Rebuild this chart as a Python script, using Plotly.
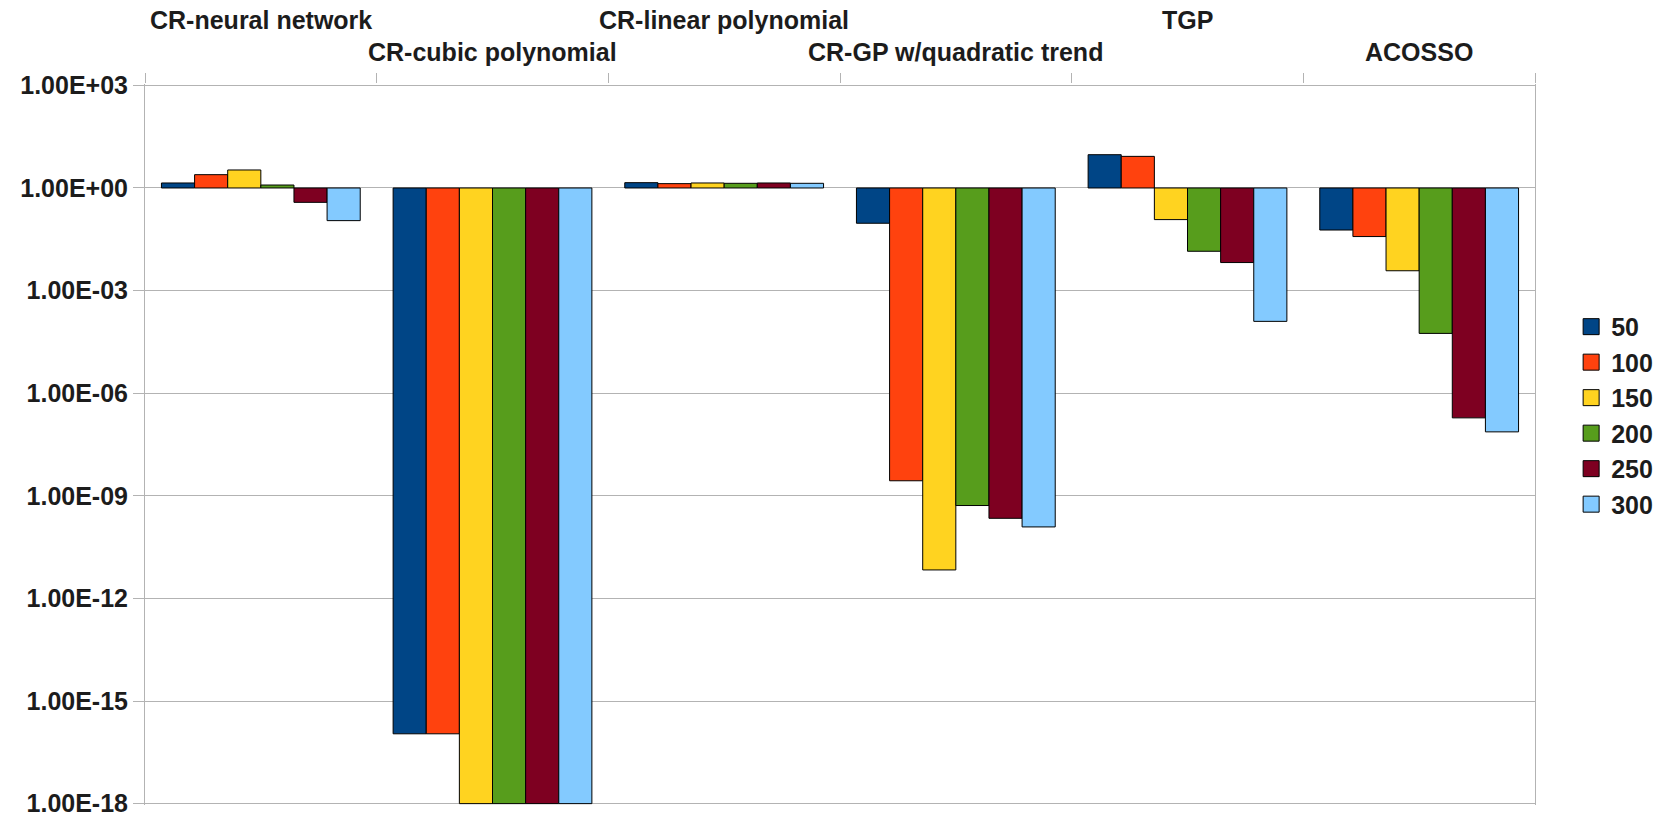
import plotly.graph_objects as go

# Methods (staggered labels along the top) and sample sizes
methods = ["CR-neural network", "CR-cubic polynomial", "CR-linear polynomial",
           "CR-GP w/quadratic trend", "TGP", "ACOSSO"]
sample_sizes = ["50", "100", "150", "200", "250", "300"]

# Values per sample size, one entry per method
vals_50 = [1.40, 1.1e-16, 1.43, 0.093, 9.4, 0.059]
vals_100 = [2.45, 1.1e-16, 1.34, 2.75e-9, 8.4, 0.038]
vals_150 = [3.36, 1e-18, 1.40, 6.8e-12, 0.119, 0.0038]
vals_200 = [1.22, 1e-18, 1.37, 5.2e-10, 0.0141, 5.6e-5]
vals_250 = [0.38, 1e-18, 1.40, 2.2e-10, 0.0066, 1.9e-7]
vals_300 = [0.111, 1e-18, 1.37, 1.23e-10, 1.26e-4, 7.4e-8]
series = [vals_50, vals_100, vals_150, vals_200, vals_250, vals_300]

colors = ["#004586", "#ff420e", "#ffd320", "#579d1c", "#7e0021", "#83caff"]

# Y axis ticks
tick_vals = [1e3, 1e0, 1e-3, 1e-6, 1e-9, 1e-12, 1e-15, 1e-18]
tick_text = ["1.00E+03", "1.00E+00", "1.00E-03", "1.00E-06", "1.00E-09",
             "1.00E-12", "1.00E-15", "1.00E-18"]

FONT = "Liberation Sans, Arial, sans-serif"
TEXT = "#1c1c1c"
GRID = "#b3b3b3"

Y_LO, Y_HI = -18.04, 3.04  # log10 range, slightly padded so end gridlines show

fig = go.Figure()

# Bars start from 1 (1.00E+00) and extend up or down to the value
for name, vals, col in zip(sample_sizes, series, colors):
    bases = [min(v, 1.0) for v in vals]
    sizes = [v - 1.0 if v > 1.0 else 1.0 - v for v in vals]
    fig.add_trace(go.Bar(
        x=methods, y=sizes, base=bases, name=name,
        marker=dict(color=col, line=dict(color="#000000", width=1)),
        customdata=vals,
        hovertemplate="%{x}<br>n=" + name + ": %{customdata:.3g}<extra></extra>",
        legendgroup=name, showlegend=False,
    ))
    # Legend entry with a larger square swatch
    fig.add_trace(go.Scatter(
        x=[None], y=[None], mode="markers", name=name, legendgroup=name,
        marker=dict(symbol="square", size=16, color=col,
                    line=dict(color="#000000", width=1)),
        hoverinfo="skip",
    ))

# Staggered category labels above the plot
for i, m in enumerate(methods):
    fig.add_annotation(
        x=m, xref="x", y=1.089 if i % 2 == 0 else 1.045, yref="paper",
        text=m, showarrow=False, xanchor="center", yanchor="middle",
        font=dict(family=FONT, size=25, color=TEXT, weight="bold"),
    )

fig.update_layout(
    width=1668, height=815,
    margin=dict(l=144.5, r=132.5, t=83.6, b=9.8, autoexpand=False),
    paper_bgcolor="white", plot_bgcolor="white",
    barmode="group", bargap=0.142, bargroupgap=0,
    font=dict(family=FONT, size=25, color=TEXT),
    showlegend=True,
    legend=dict(
        x=1.026, xanchor="left", y=0.695, yanchor="top",
        font=dict(family=FONT, size=25, color=TEXT, weight="bold"),
        tracegroupgap=0, itemsizing="trace", bgcolor="rgba(0,0,0,0)",
    ),
    xaxis=dict(
        type="category", categoryorder="array", categoryarray=methods,
        side="top", showticklabels=False, showgrid=False,
        ticks="outside", tickson="boundaries", ticklen=10,
        tickcolor=GRID, tickwidth=1, showline=False, zeroline=False,
        range=[-0.5, 5.5], automargin=False,
    ),
    # Ticks where the category axis crosses at 1.00E+00
    xaxis2=dict(
        overlaying="x", anchor="free", position=(0 - Y_LO) / (Y_HI - Y_LO),
        side="bottom", range=[-0.5, 5.5], tickvals=[0.5, 1.5, 2.5, 3.5, 4.5],
        showticklabels=False, ticks="outside", ticklen=11,
        tickcolor=GRID, tickwidth=1, showgrid=False, showline=False,
        zeroline=False, automargin=False,
    ),
    yaxis=dict(
        type="log", range=[Y_LO, Y_HI], tickvals=tick_vals, ticktext=tick_text,
        showgrid=True, gridcolor=GRID, gridwidth=1,
        showline=True, linecolor=GRID, linewidth=1, mirror=True,
        ticks="outside", ticklen=11, tickcolor=GRID, tickwidth=1,
        tickfont=dict(family=FONT, size=25, color=TEXT, weight="bold"),
        ticklabeloverflow="allow", automargin=False, zeroline=False,
    ),
)

fig.write_html("out.html")
